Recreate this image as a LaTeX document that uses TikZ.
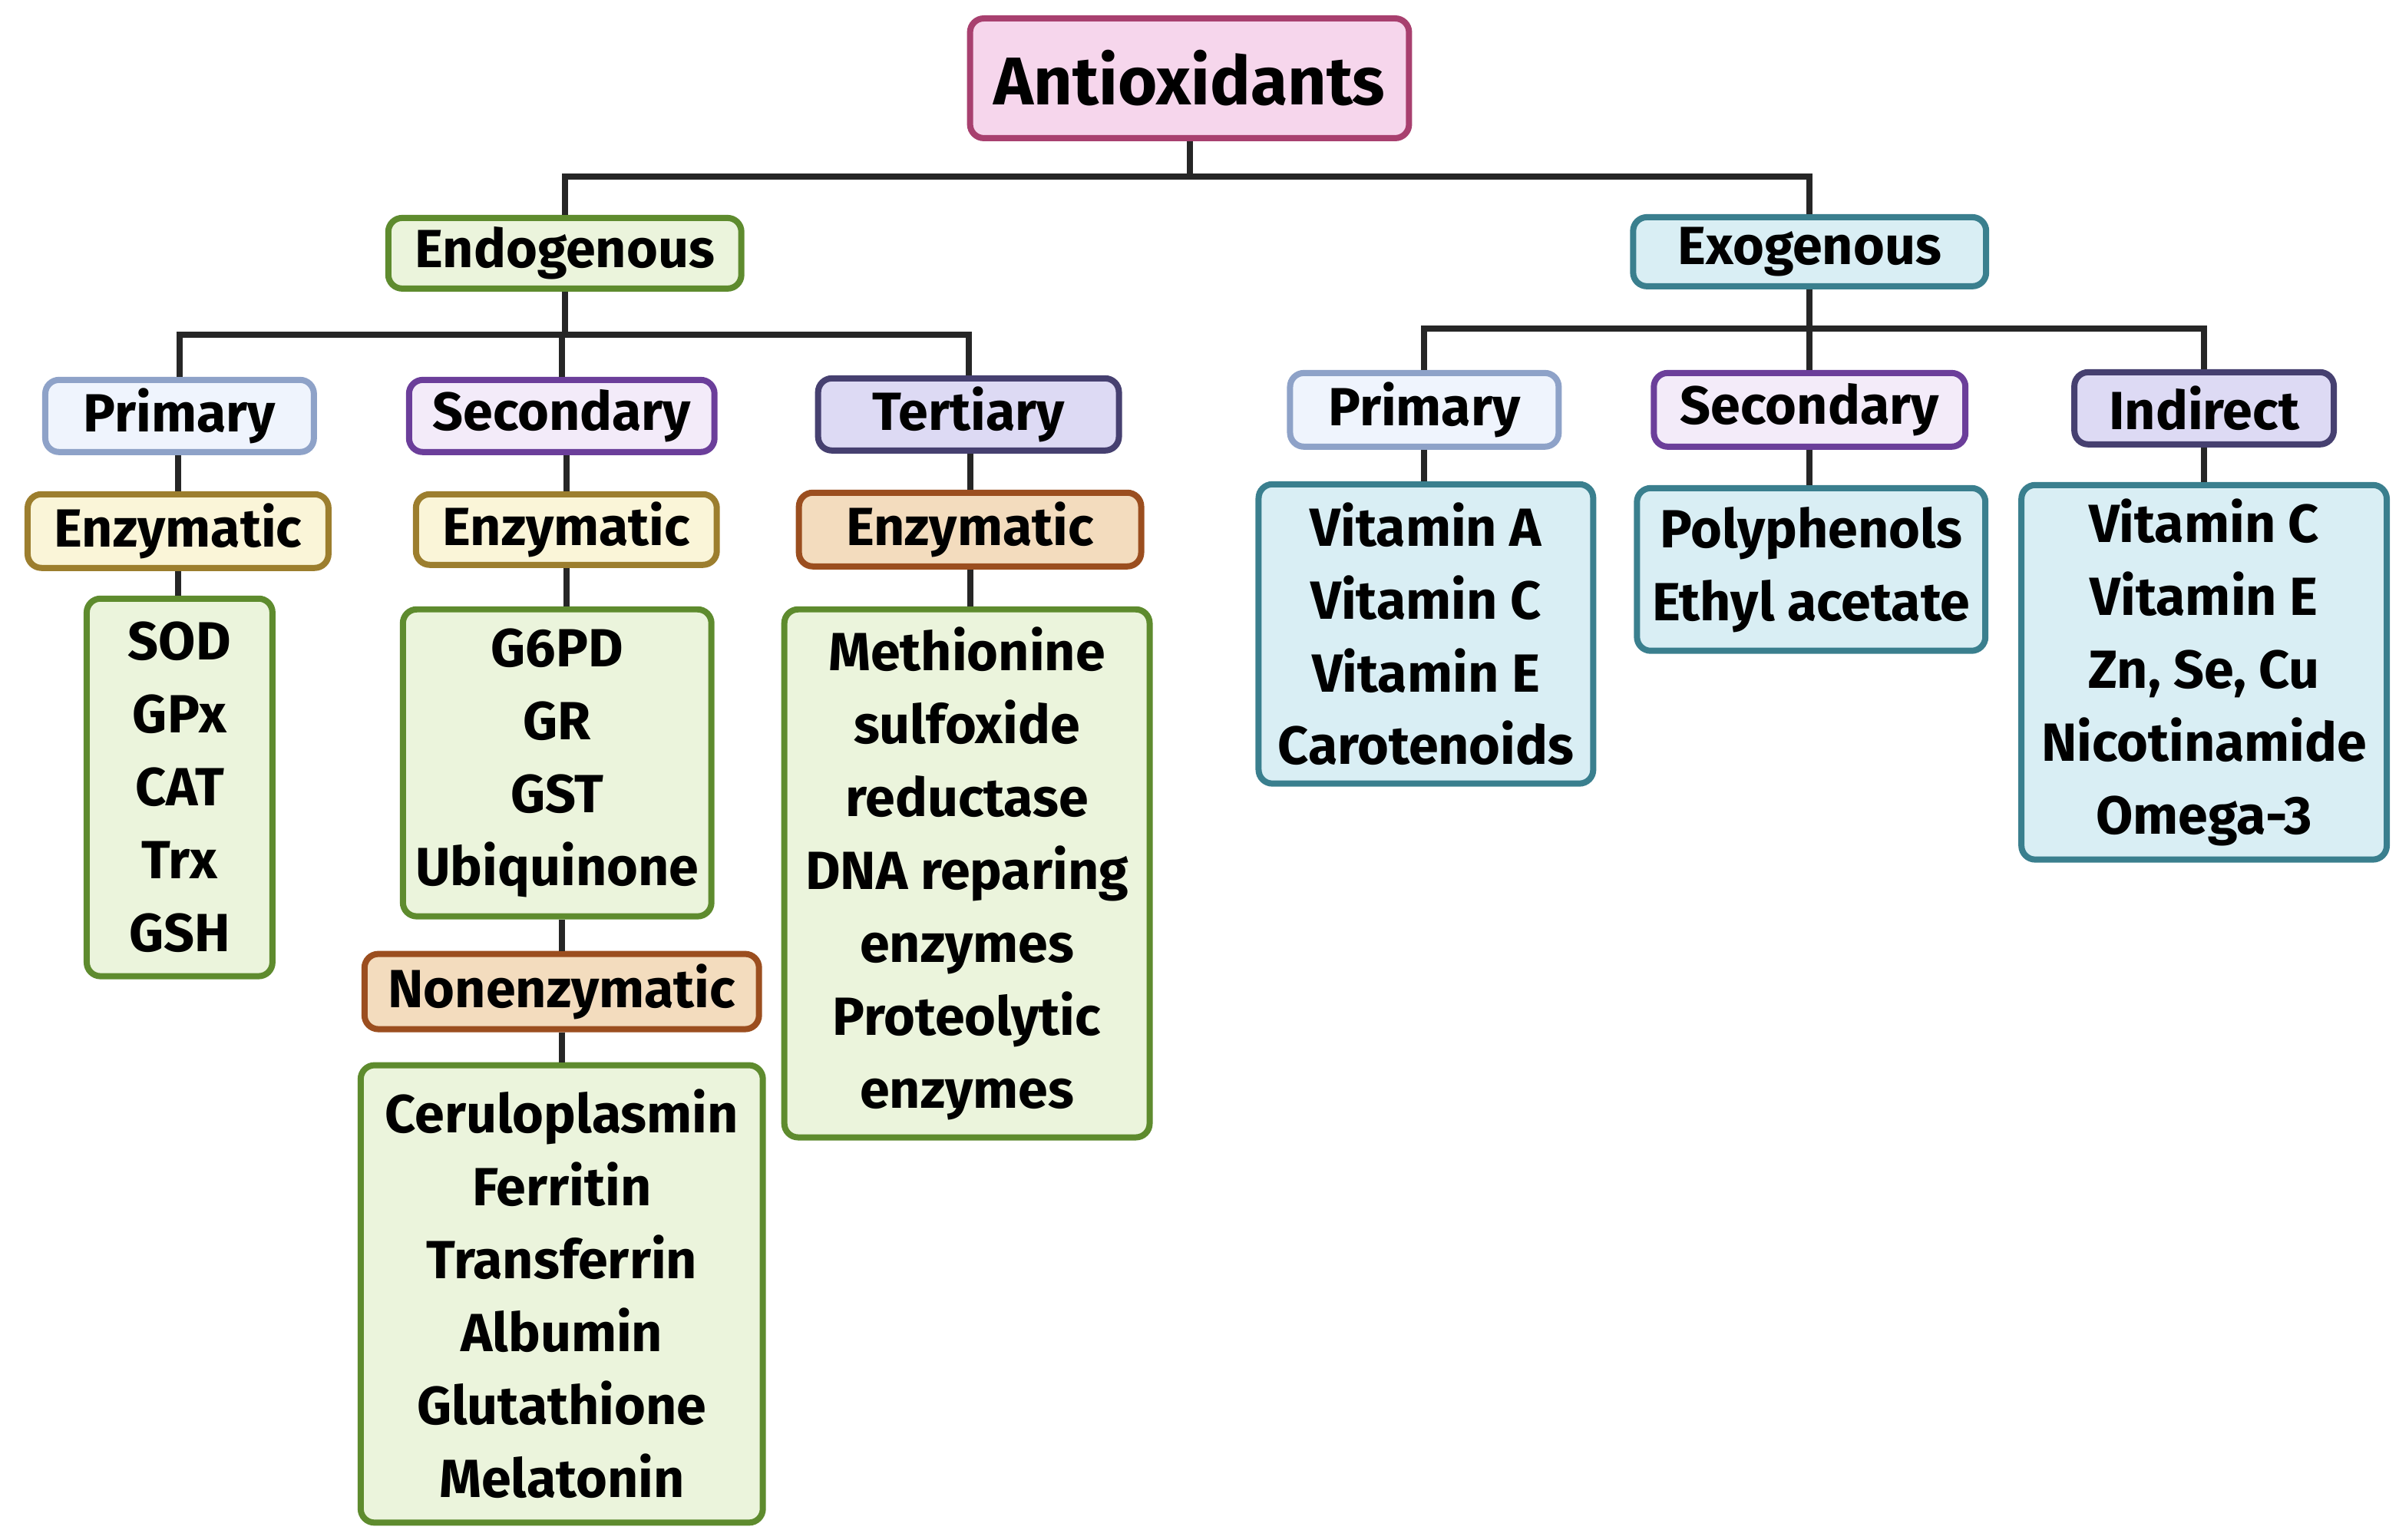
\documentclass[tikz,border=0pt]{standalone}
\usepackage{fontspec}
\setmainfont{Fira Sans}
\begin{document}
\begin{tikzpicture}[x=1pt,y=-1pt,
  bx/.style={draw=#1, line width=4pt, rounded corners=9pt, inner sep=0pt, font=\fontsize{35}{47.5}\selectfont\bfseries, align=center},
  ln/.style={line width=4pt, draw=black!85},
]
\definecolor{pkF}{HTML}{F6D6EC}\definecolor{pkD}{HTML}{A8406F}
\definecolor{gnF}{HTML}{EBF4DC}\definecolor{gnD}{HTML}{5E8B2E}
\definecolor{blF}{HTML}{D9EEF4}\definecolor{blD}{HTML}{3A7F8E}
\definecolor{p1F}{HTML}{EFF4FD}\definecolor{p1D}{HTML}{8EA2C8}
\definecolor{s1F}{HTML}{F3EBF9}\definecolor{s1D}{HTML}{6B3E9A}
\definecolor{t1F}{HTML}{DDDAF4}\definecolor{t1D}{HTML}{464070}
\definecolor{ezF}{HTML}{FAF5D8}\definecolor{ezD}{HTML}{9C7E2E}
\definecolor{orF}{HTML}{F3DCBE}\definecolor{orD}{HTML}{9B4E1F}
\useasboundingbox (0,0) rectangle (1563,1003);
\coordinate (b0) at (775,115);
\coordinate (b1) at (368,218);
\coordinate (b2) at (1179,214);
\node[bx=pkD, fill=pkF, minimum width=286pt, minimum height=78pt, font=\fontsize{44}{50}\selectfont\bfseries] (anti) at (775,51) {Antioxidants};
\node[bx=gnD, fill=gnF, minimum width=230pt, minimum height=46pt] (endo) at (368,165) {Endogenous};
\node[bx=blD, fill=blF, minimum width=230pt, minimum height=45pt] (exo) at (1179,164) {Exogenous};
\node[bx=p1D, fill=p1F, minimum width=175pt, minimum height=47pt] (pri) at (117,271) {Primary};
\node[bx=s1D, fill=s1F, minimum width=199pt, minimum height=47pt] (sec) at (366,271) {Secondary};
\node[bx=t1D, fill=t1F, minimum width=196pt, minimum height=47pt] (ter) at (631,270) {Tertiary};
\node[bx=ezD, fill=ezF, minimum width=196pt, minimum height=48pt] (ez1) at (116,346) {Enzymatic};
\node[bx=ezD, fill=ezF, minimum width=196pt, minimum height=46pt] (ez2) at (369,345) {Enzymatic};
\node[bx=orD, fill=orF, minimum width=223pt, minimum height=48pt] (ez3) at (632,345) {Enzymatic};
\node[bx=gnD, fill=gnF, minimum width=121pt, minimum height=246pt] (sod) at (117,513) {SOD\\GPx\\CAT\\Trx\\GSH};
\node[bx=gnD, fill=gnF, minimum width=201pt, minimum height=200pt] (g6) at (363,497) {G6PD\\GR\\GST\\Ubiquinone};
\node[bx=orD, fill=orF, minimum width=257pt, minimum height=49pt] (non) at (366,646) {Nonenzymatic};
\node[bx=gnD, fill=gnF, minimum width=262pt, minimum height=298pt] (cer) at (366,843) {Ceruloplasmin\\Ferritin\\Transferrin\\Albumin\\Glutathione\\Melatonin};
\node[bx=gnD, fill=gnF, minimum width=238pt, minimum height=344pt] (met) at (630,569) {Methionine\\sulfoxide\\reductase\\DNA reparing\\enzymes\\Proteolytic\\enzymes};
\node[bx=p1D, fill=p1F, minimum width=175pt, minimum height=48pt] (pri2) at (928,267) {Primary};
\node[bx=s1D, fill=s1F, minimum width=203pt, minimum height=48pt] (sec2) at (1179,267) {Secondary};
\node[bx=t1D, fill=t1F, minimum width=169pt, minimum height=47pt] (ind) at (1436,266) {Indirect};
\node[bx=blD, fill=blF, minimum width=218pt, minimum height=195pt] (va) at (929,413) {Vitamin A\\Vitamin C\\Vitamin E\\Carotenoids};
\node[bx=blD, fill=blF, minimum width=227pt, minimum height=106pt] (pp) at (1180,371) {Polyphenols\\Ethyl acetate};
\node[bx=blD, fill=blF, minimum width=238pt, minimum height=244pt] (vc) at (1436,438) {Vitamin C\\Vitamin E\\Zn, Se, Cu\\Nicotinamide\\Omega-3};
% tree connectors
\draw[ln] (anti.south) -- (b0);
\draw[ln] (endo.north) |- (b0) -| (exo.north);
\draw[ln] (endo.south) -- (b1);
\draw[ln] (pri.north) |- (b1) -| (ter.north);
\draw[ln] (sec.north) -- (sec.north |- b1);
\draw[ln] (exo.south) -- (b2);
\draw[ln] (pri2.north) |- (b2) -| (ind.north);
\draw[ln] (sec2.north) -- (b2);
\draw[ln] (ez1.north) -- (ez1.north |- pri.south); \draw[ln] (ez1.south) -- (ez1.south |- sod.north);
\draw[ln] (ez2.north) -- (ez2.north |- sec.south); \draw[ln] (ez2.south) -- (ez2.south |- g6.north);
\draw[ln] (non.north) -- (non.north |- g6.south); \draw[ln] (non.south) -- (cer.north);
\draw[ln] (ez3.north) -- (ez3.north |- ter.south); \draw[ln] (ez3.south) -- (ez3.south |- met.north);
\draw[ln] (pri2.south) -- (pri2.south |- va.north); \draw[ln] (sec2.south) -- (sec2.south |- pp.north); \draw[ln] (ind.south) -- (ind.south |- vc.north);
\end{tikzpicture}
\end{document}
